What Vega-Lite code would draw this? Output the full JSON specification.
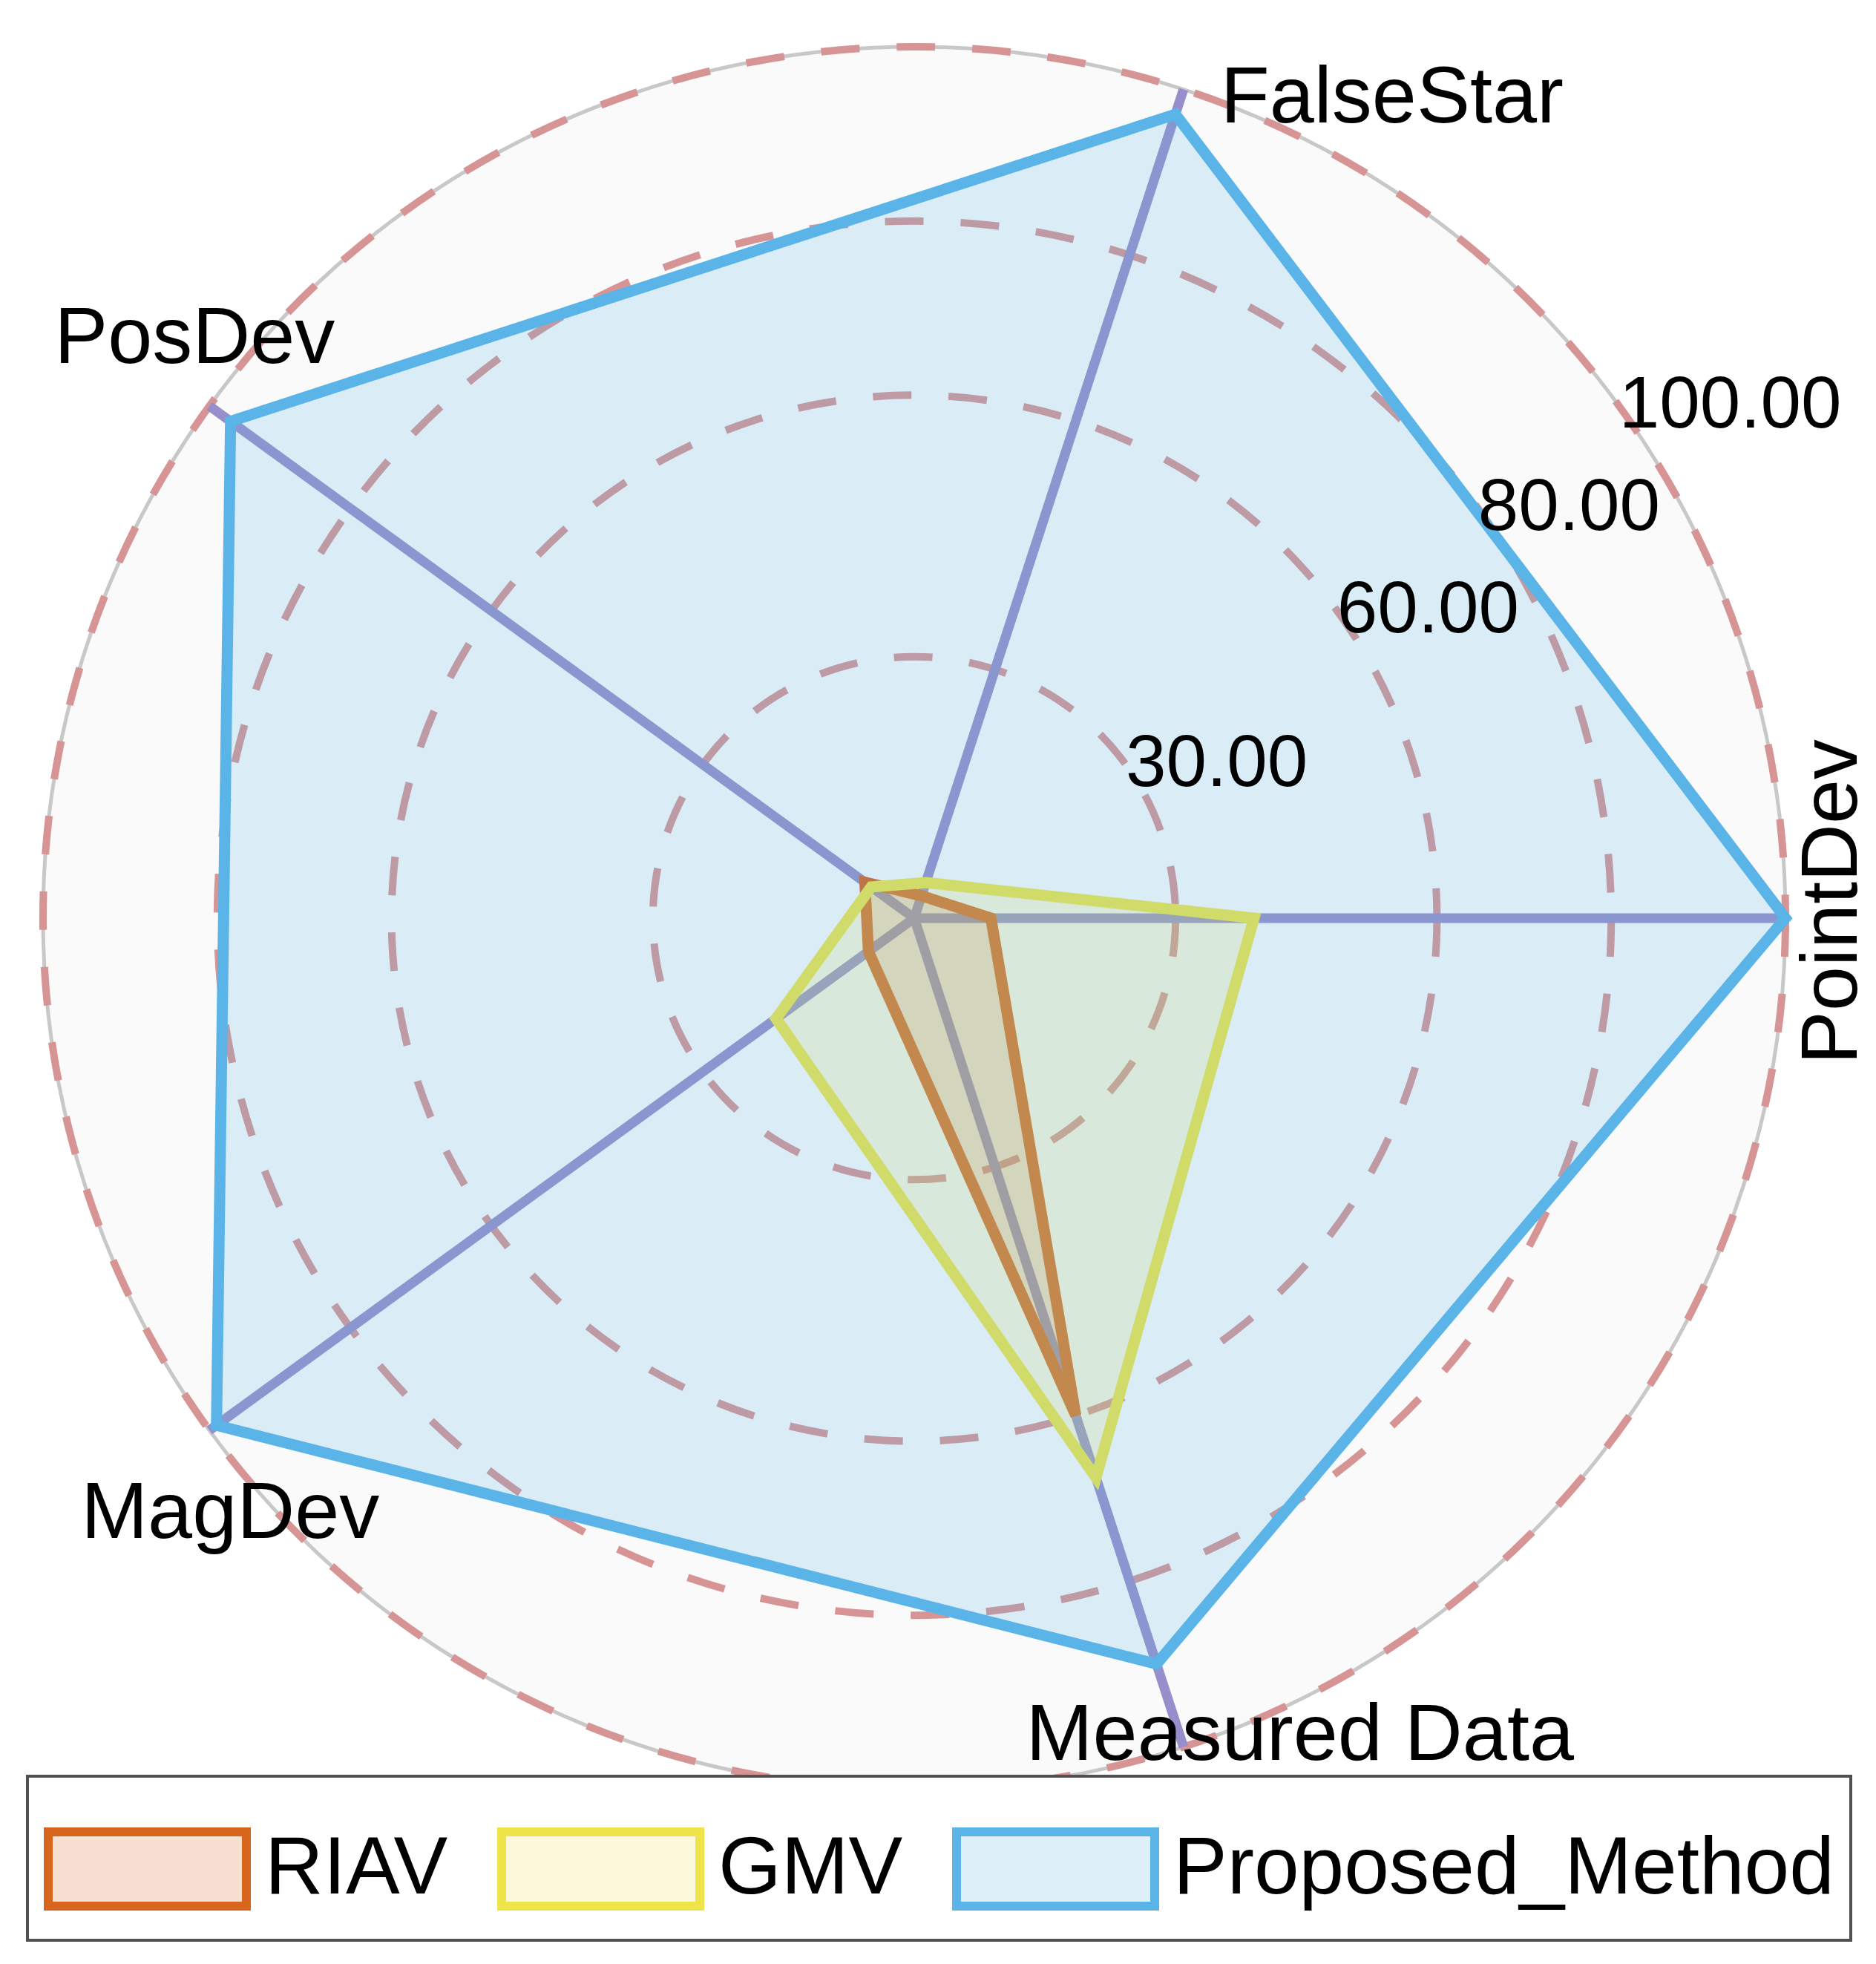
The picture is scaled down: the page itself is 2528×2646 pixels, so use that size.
{
  "$schema": "https://vega.github.io/schema/vega-lite/v6.json",
  "width": 2348,
  "height": 2348,
  "autosize": "none",
  "padding": {"left": 58, "top": 63, "right": 122, "bottom": 235},
  "background": "#ffffff",
  "config": {
    "view": {"stroke": null},
    "font": "Liberation Sans",
    "legend": {"symbolFillColor": "#ffffff", "strokeColor": "#505050", "strokeWidth": 4, "fillColor": "#ffffff"}
  },
  "datasets": {
    "scores": [
      {"series": "RIAV", "axis": "PointDev", "idx": 0, "value": 8.8},
      {"series": "RIAV", "axis": "FalseStar", "idx": 1, "value": 2.7},
      {"series": "RIAV", "axis": "PosDev", "idx": 2, "value": 7},
      {"series": "RIAV", "axis": "MagDev", "idx": 3, "value": 6.5},
      {"series": "RIAV", "axis": "Measured Data", "idx": 4, "value": 60},
      {"series": "GMV", "axis": "PointDev", "idx": 0, "value": 39},
      {"series": "GMV", "axis": "FalseStar", "idx": 1, "value": 4.3},
      {"series": "GMV", "axis": "PosDev", "idx": 2, "value": 6.1},
      {"series": "GMV", "axis": "MagDev", "idx": 3, "value": 19.6},
      {"series": "GMV", "axis": "Measured Data", "idx": 4, "value": 67.5},
      {"series": "Proposed_Method", "axis": "PointDev", "idx": 0, "value": 100},
      {"series": "Proposed_Method", "axis": "FalseStar", "idx": 1, "value": 97},
      {"series": "Proposed_Method", "axis": "PosDev", "idx": 2, "value": 97},
      {"series": "Proposed_Method", "axis": "MagDev", "idx": 3, "value": 99},
      {"series": "Proposed_Method", "axis": "Measured Data", "idx": 4, "value": 90}
    ],
    "spokes": [
      {"axis": "PointDev", "idx": 0, "max": 100},
      {"axis": "FalseStar", "idx": 1, "max": 100},
      {"axis": "PosDev", "idx": 2, "max": 100},
      {"axis": "MagDev", "idx": 3, "max": 100},
      {"axis": "Measured Data", "idx": 4, "max": 100}
    ],
    "rings": [
      {"level": 30, "label": "30.00"},
      {"level": 60, "label": "60.00"},
      {"level": 80, "label": "80.00"},
      {"level": 100, "label": "100.00"}
    ]
  },
  "layer": [
    {
      "data": {"name": "rings"},
      "transform": [{"filter": "datum.level == 100"}, {"calculate": "0", "as": "c"}],
      "mark": {"type": "point", "shape": "circle", "filled": true, "fill": "#fafafa", "opacity": 1, "strokeWidth": 0},
      "encoding": {
        "x": {"field": "c", "type": "quantitative", "scale": {"domain": [-100, 100], "nice": false, "zero": false}, "axis": null},
        "y": {"field": "c", "type": "quantitative", "scale": {"domain": [-100, 100], "nice": false, "zero": false}, "axis": null},
        "size": {"field": "level", "type": "quantitative", "legend": null, "scale": {"type": "pow", "exponent": 2, "domain": [0, 100], "range": [0, 5513104], "zero": true}}
      }
    },
    {
      "data": {"name": "rings"},
      "transform": [{"filter": "datum.level == 100"}, {"calculate": "0", "as": "c"}],
      "mark": {"type": "point", "shape": "circle", "filled": false, "stroke": "#c8c8c8", "strokeWidth": 5, "opacity": 1},
      "encoding": {
        "x": {"field": "c", "type": "quantitative"},
        "y": {"field": "c", "type": "quantitative"},
        "size": {"field": "level", "type": "quantitative", "legend": null}
      }
    },
    {
      "data": {"name": "rings"},
      "transform": [{"calculate": "0", "as": "c"}],
      "mark": {"type": "point", "shape": "circle", "filled": false, "stroke": "#d69494", "strokeWidth": 10, "strokeDash": [52, 50], "opacity": 1},
      "encoding": {
        "x": {"field": "c", "type": "quantitative"},
        "y": {"field": "c", "type": "quantitative"},
        "size": {"field": "level", "type": "quantitative", "legend": null}
      }
    },
    {
      "data": {"name": "spokes"},
      "transform": [
        {"calculate": "datum.idx*2*PI/5", "as": "ang"},
        {"calculate": "datum.max*cos(datum.ang)", "as": "tx"},
        {"calculate": "datum.max*sin(datum.ang)", "as": "ty"},
        {"calculate": "0", "as": "c"}
      ],
      "mark": {"type": "rule", "stroke": "#978fcb", "strokeWidth": 13},
      "encoding": {
        "x": {"field": "c", "type": "quantitative"},
        "y": {"field": "c", "type": "quantitative"},
        "x2": {"field": "tx"},
        "y2": {"field": "ty"}
      }
    },
    {
      "data": {"name": "scores"},
      "transform": [
        {"calculate": "datum.idx*2*PI/5", "as": "ang"},
        {"calculate": "datum.value*cos(datum.ang)", "as": "px"},
        {"calculate": "datum.value*sin(datum.ang)", "as": "py"}
      ],
      "mark": {"type": "line", "interpolate": "linear-closed", "strokeWidth": 15, "strokeJoin": "miter"},
      "encoding": {
        "x": {"field": "px", "type": "quantitative"},
        "y": {"field": "py", "type": "quantitative"},
        "order": {"field": "idx", "type": "quantitative"},
        "stroke": {
          "field": "series", "type": "nominal", "title": " ",
          "scale": {"domain": ["RIAV", "GMV", "Proposed_Method"], "range": ["#d8651e", "#efe54a", "#5ab4e8"]},
          "legend": {"orient": "none", "legendX": -21, "legendY": 2330, "direction": "horizontal", "symbolType": "M-1,-1H4.34V1H-1Z", "symbolSize": 10000, "symbolStrokeWidth": 12, "labelFontSize": 109, "labelFont": "Liberation Sans", "labelColor": "#000000", "labelOffset": 186, "labelLimit": 2000, "columnPadding": 48, "padding": 22, "titleFontSize": 30, "titlePadding": 17}
        },
        "fill": {
          "field": "series", "type": "nominal", "title": " ",
          "scale": {"domain": ["RIAV", "GMV", "Proposed_Method"], "range": ["rgba(216,101,30,0.2)", "rgba(239,229,74,0.2)", "rgba(90,180,232,0.2)"]},
          "legend": {"orient": "none", "legendX": -21, "legendY": 2330, "direction": "horizontal", "symbolType": "M-1,-1H4.34V1H-1Z", "symbolSize": 10000, "symbolStrokeWidth": 12, "labelFontSize": 109, "labelFont": "Liberation Sans", "labelColor": "#000000", "labelOffset": 186, "labelLimit": 2000, "columnPadding": 48, "padding": 22, "titleFontSize": 30, "titlePadding": 17}
        }
      }
    },
    {
      "data": {"name": "rings"},
      "transform": [
        {"calculate": "datum.level*cos(PI/5)", "as": "lx"},
        {"calculate": "datum.level*sin(PI/5)", "as": "ly"}
      ],
      "mark": {"type": "text", "align": "left", "baseline": "middle", "fontSize": 98, "font": "Liberation Sans", "color": "#000000"},
      "encoding": {
        "x": {"field": "lx", "type": "quantitative"},
        "y": {"field": "ly", "type": "quantitative"},
        "text": {"field": "label"}
      }
    },
    {
      "data": {"name": "spokes"},
      "transform": [
        {"filter": "datum.axis == 'PointDev'"},
        {"calculate": "datum.idx*2*PI/5", "as": "ang"},
        {"calculate": "datum.max*cos(datum.ang)", "as": "tx"},
        {"calculate": "datum.max*sin(datum.ang)", "as": "ty"}
      ],
      "mark": {"type": "text", "angle": 270, "align": "center", "baseline": "alphabetic", "dx": 22, "dy": 96, "fontSize": 108, "font": "Liberation Sans", "color": "#000000"},
      "encoding": {"x": {"field": "tx", "type": "quantitative"}, "y": {"field": "ty", "type": "quantitative"}, "text": {"field": "axis"}}
    },
    {
      "data": {"name": "spokes"},
      "transform": [
        {"filter": "datum.axis == 'FalseStar'"},
        {"calculate": "datum.idx*2*PI/5", "as": "ang"},
        {"calculate": "datum.max*cos(datum.ang)", "as": "tx"},
        {"calculate": "datum.max*sin(datum.ang)", "as": "ty"}
      ],
      "mark": {"type": "text", "align": "left", "baseline": "alphabetic", "dx": 50, "dy": 45, "fontSize": 108, "font": "Liberation Sans", "color": "#000000"},
      "encoding": {"x": {"field": "tx", "type": "quantitative"}, "y": {"field": "ty", "type": "quantitative"}, "text": {"field": "axis"}}
    },
    {
      "data": {"name": "spokes"},
      "transform": [
        {"filter": "datum.axis == 'PosDev'"},
        {"calculate": "datum.idx*2*PI/5", "as": "ang"},
        {"calculate": "datum.max*cos(datum.ang)", "as": "tx"},
        {"calculate": "datum.max*sin(datum.ang)", "as": "ty"}
      ],
      "mark": {"type": "text", "align": "center", "baseline": "alphabetic", "dx": -20, "dy": -58, "fontSize": 108, "font": "Liberation Sans", "color": "#000000"},
      "encoding": {"x": {"field": "tx", "type": "quantitative"}, "y": {"field": "ty", "type": "quantitative"}, "text": {"field": "axis"}}
    },
    {
      "data": {"name": "spokes"},
      "transform": [
        {"filter": "datum.axis == 'MagDev'"},
        {"calculate": "datum.idx*2*PI/5", "as": "ang"},
        {"calculate": "datum.max*cos(datum.ang)", "as": "tx"},
        {"calculate": "datum.max*sin(datum.ang)", "as": "ty"}
      ],
      "mark": {"type": "text", "align": "center", "baseline": "alphabetic", "dx": 28, "dy": 145, "fontSize": 108, "font": "Liberation Sans", "color": "#000000"},
      "encoding": {"x": {"field": "tx", "type": "quantitative"}, "y": {"field": "ty", "type": "quantitative"}, "text": {"field": "axis"}}
    },
    {
      "data": {"name": "spokes"},
      "transform": [
        {"filter": "datum.axis == 'Measured Data'"},
        {"calculate": "datum.idx*2*PI/5", "as": "ang"},
        {"calculate": "datum.max*cos(datum.ang)", "as": "tx"},
        {"calculate": "datum.max*sin(datum.ang)", "as": "ty"}
      ],
      "mark": {"type": "text", "align": "center", "baseline": "alphabetic", "dx": 157, "dy": 17, "fontSize": 108, "font": "Liberation Sans", "color": "#000000"},
      "encoding": {"x": {"field": "tx", "type": "quantitative"}, "y": {"field": "ty", "type": "quantitative"}, "text": {"field": "axis"}}
    }
  ]
}
